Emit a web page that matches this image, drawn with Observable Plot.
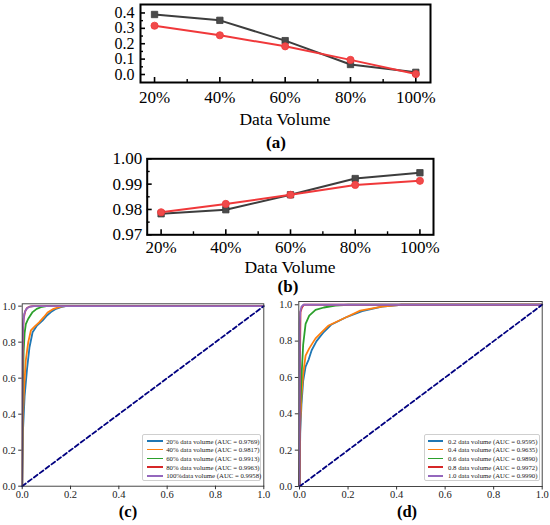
<!DOCTYPE html>
<html>
<head>
<meta charset="utf-8">
<script src="https://cdn.jsdelivr.net/npm/d3@7"></script>
<script src="https://cdn.jsdelivr.net/npm/@observablehq/plot@0.6"></script>
<style>
  html, body { margin: 0; padding: 0; background: #fff; overflow: hidden; }
  #fig { position: relative; width: 550px; height: 525px; font-family: "Liberation Serif", "Times New Roman", serif; color: #000; }
  .panel { position: absolute; }
  .lbl { position: absolute; transform: translate(-50%, -50%); white-space: nowrap; line-height: 1; }
  .legend { position: absolute; background: #fff; border: 0.7px solid #cfcfcf; border-radius: 2px; box-sizing: border-box; font-family: "Liberation Serif", serif; font-size: 6.75px; color: #222; }
  .row { position: absolute; left: 0; height: 8px; display: flex; align-items: center; white-space: nowrap; }
  .swatch { display: inline-block; height: 1.5px; }
</style>
</head>
<body>
<div id="fig"></div>
<script>
// ---------- data ----------
const volumes = [20, 40, 60, 80, 100];
const volumeLabels = ["20%", "40%", "60%", "80%", "100%"];
const minorVolumes = [30, 50, 70, 90];

// panel (a)
const aGray = [0.390, 0.352, 0.220, 0.065, 0.014];
const aRed  = [0.317, 0.255, 0.183, 0.095, 0.003];
const aTicks = [0.0, 0.1, 0.2, 0.3, 0.4];
const aMinor = [0.05, 0.15, 0.25, 0.35];

// panel (b)
const bGray = [0.9783, 0.9799, 0.9858, 0.9922, 0.9945];
const bRed  = [0.9789, 0.9822, 0.9858, 0.9897, 0.9913];
const bTicks = [0.97, 0.98, 0.99, 1.00];
const bMinor = [0.975, 0.985, 0.995];

// ROC ticks
const rocTicks = [0, 0.2, 0.4, 0.6, 0.8, 1.0];
const diagonal = [[0, 0], [1, 1]];
const rocColors = ["#1f77b4", "#ff7f0e", "#2ca02c", "#d62728", "#9467bd"];

// panel (c) ROC curves [fpr, tpr]
const c20 = [[0,0],[0.003,0.30],[0.010,0.50],[0.020,0.65],[0.030,0.77],[0.043,0.855],[0.060,0.89],[0.084,0.92],[0.100,0.945],[0.119,0.967],[0.140,0.985],[0.160,0.994],[0.180,1.0],[1,1]];
const c40 = [[0,0],[0.002,0.35],[0.008,0.55],[0.015,0.70],[0.025,0.80],[0.036,0.865],[0.050,0.885],[0.070,0.91],[0.090,0.94],[0.105,0.965],[0.130,0.985],[0.160,0.997],[0.180,1.0],[1,1]];
const c60 = [[0,0],[0.002,0.50],[0.006,0.75],[0.010,0.85],[0.015,0.90],[0.025,0.93],[0.043,0.967],[0.060,0.985],[0.077,0.994],[0.100,1.0],[1,1]];
const c80 = [[0,0],[0.001,0.60],[0.003,0.85],[0.006,0.93],[0.012,0.97],[0.020,0.99],[0.030,0.997],[0.045,1.0],[1,1]];
const c100 = [[0,0],[0.001,0.70],[0.003,0.88],[0.008,0.955],[0.015,0.98],[0.025,0.993],[0.036,0.998],[0.050,1.0],[1,1]];
const cLabels = ["20% data volume (AUC = 0.9769)", "40% data volume (AUC = 0.9817)", "60% data volume (AUC = 0.9913)", "80% data volume (AUC = 0.9963)", "100%data volume (AUC = 0.9958)"];

// panel (d) ROC curves [fpr, tpr]
const d02 = [[0,0],[0.003,0.30],[0.008,0.45],[0.015,0.58],[0.025,0.66],[0.038,0.70],[0.050,0.75],[0.070,0.80],[0.100,0.85],[0.130,0.89],[0.190,0.93],[0.258,0.965],[0.340,0.99],[0.420,1.0],[1,1]];
const d04 = [[0,0],[0.003,0.35],[0.008,0.50],[0.015,0.62],[0.025,0.72],[0.040,0.76],[0.066,0.815],[0.100,0.86],[0.120,0.886],[0.190,0.93],[0.250,0.968],[0.340,0.99],[0.420,1.0],[1,1]];
const d06 = [[0,0],[0.002,0.40],[0.008,0.60],[0.015,0.78],[0.025,0.895],[0.040,0.94],[0.066,0.972],[0.100,0.985],[0.148,0.996],[0.200,1.0],[1,1]];
const d08 = [[0,0],[0.002,0.70],[0.004,0.96],[0.010,0.985],[0.018,1.0],[1,1]];
const d10 = [[0,0],[0.001,0.90],[0.003,0.96],[0.008,0.99],[0.015,1.0],[1,1]];
const dLabels = ["0.2 data volume (AUC = 0.9595)", "0.4 data volume (AUC = 0.9635)", "0.6 data volume (AUC = 0.9890)", "0.8 data volume (AUC = 0.9972)", "1.0 data volume (AUC = 0.9990)"];

// ---------- helpers ----------
const fig = document.getElementById("fig");
const GRAY = "#3d3d3d", RED = "#f0383a";
const volFmt = d => volumeLabels[volumes.indexOf(d)];

function place(el, left, top) {
  const wrap = document.createElement("div");
  wrap.className = "panel";
  wrap.style.left = left + "px";
  wrap.style.top = top + "px";
  wrap.appendChild(el);
  fig.appendChild(wrap);
}
function label(text, x, y, size, bold) {
  const d = document.createElement("div");
  d.className = "lbl";
  d.textContent = text;
  d.style.left = x + "px";
  d.style.top = y + "px";
  d.style.fontSize = size + "px";
  if (bold) d.style.fontWeight = "bold";
  fig.appendChild(d);
}

function originPanel({gray, red, yDomain, xDomain, yTicks, yMinor, yFmt, mL, mR, mT, mB, h, xPad, yPad, yFont}) {
  const fw = 550 - mL - mR, fh = h - mT - mB;
  const grayRows = volumes.map((v, i) => ({x: v, y: gray[i]}));
  const redRows = volumes.map((v, i) => ({x: v, y: red[i]}));
  return Plot.plot({
    width: 550, height: h,
    marginLeft: mL, marginRight: mR, marginTop: mT, marginBottom: mB,
    style: {fontFamily: "Liberation Serif, Times New Roman, serif", background: "transparent", color: "#000"},
    x: {domain: xDomain},
    y: {domain: yDomain},
    marks: [
      Plot.axisX({ticks: volumes, tickFormat: volFmt, tickSize: 0, tickPadding: xPad, fontSize: 17, label: null}),
      Plot.axisY({ticks: yTicks, tickFormat: yFmt, tickSize: 0, tickPadding: yPad, fontSize: yFont, label: null}),
      Plot.tickX(volumes, {x: d => d, insetTop: fh - 5, stroke: "#000", strokeWidth: 1.6}),
      Plot.tickX(minorVolumes, {x: d => d, insetTop: fh - 3, stroke: "#000", strokeWidth: 1.4}),
      Plot.tickY(yTicks, {y: d => d, insetRight: fw - 5, stroke: "#000", strokeWidth: 1.6}),
      Plot.tickY(yMinor, {y: d => d, insetRight: fw - 3, stroke: "#000", strokeWidth: 1.4}),
      Plot.line(grayRows, {x: "x", y: "y", stroke: GRAY, strokeWidth: 2}),
      Plot.dot(grayRows, {x: "x", y: "y", symbol: "square", r: 3.6, fill: "#4a4a4a", stroke: GRAY, strokeWidth: 0.8}),
      Plot.line(redRows, {x: "x", y: "y", stroke: RED, strokeWidth: 2}),
      Plot.dot(redRows, {x: "x", y: "y", r: 3.6, fill: "#f04a4a", stroke: RED, strokeWidth: 0.8}),
      Plot.frame({stroke: "#000", strokeWidth: 2})
    ]
  });
}

function rocPanel({curves, xDomain, yDomain, mL, mR, mT, mB}) {
  const marks = [
    Plot.axisX({ticks: rocTicks, tickFormat: d3.format(".1f"), tickSize: 3.5, tickPadding: 0.5, fontSize: 10.5, label: null, stroke: "#333"}),
    Plot.axisY({ticks: rocTicks, tickFormat: d3.format(".1f"), tickSize: 3.5, tickPadding: 3, fontSize: 10.5, label: null, stroke: "#333"})
  ];
  curves.forEach((c, i) => marks.push(Plot.line(c, {stroke: rocColors[i], strokeWidth: 1.8, clip: true})));
  marks.push(Plot.line(diagonal, {stroke: "#000080", strokeWidth: 1.8, strokeDasharray: "4.5,2.8"}));
  marks.push(Plot.frame({stroke: "#333", strokeWidth: 0.9}));
  return Plot.plot({
    width: 275, height: 230,
    marginLeft: mL, marginRight: mR, marginTop: mT, marginBottom: mB,
    style: {fontFamily: "Liberation Serif, Times New Roman, serif", background: "transparent", color: "#222"},
    x: {domain: xDomain},
    y: {domain: yDomain},
    marks
  });
}

function legend(labels, left, top, width, height, lineX0, lineX1, textX, rowTop, rowStep) {
  const box = document.createElement("div");
  box.className = "legend";
  box.style.left = left + "px";
  box.style.top = top + "px";
  box.style.width = width + "px";
  box.style.height = height + "px";
  labels.forEach((t, i) => {
    const row = document.createElement("div");
    row.className = "row";
    row.style.top = (rowTop + i * rowStep - 4) + "px";
    const sw = document.createElement("span");
    sw.className = "swatch";
    sw.style.marginLeft = lineX0 + "px";
    sw.style.width = (lineX1 - lineX0) + "px";
    sw.style.background = rocColors[i];
    const tx = document.createElement("span");
    tx.textContent = t;
    tx.style.marginLeft = (textX - lineX1) + "px";
    row.appendChild(sw);
    row.appendChild(tx);
    box.appendChild(row);
  });
  fig.appendChild(box);
}

// ---------- panel (a) ----------
place(originPanel({gray: aGray, red: aRed, yDomain: [-0.052, 0.455], xDomain: [15.7, 104.5],
  yTicks: aTicks, yMinor: aMinor, yFmt: d3.format(".1f"),
  mL: 140, mR: 120, mT: 4, mB: 48, h: 130, xPad: 8, yPad: 6, yFont: 16}), 0, 0);
label("Data Volume", 285, 120, 17.5, false);
label("(a)", 276, 142, 17, true);

// ---------- panel (b) ----------
place(originPanel({gray: bGray, red: bRed, yDomain: [0.97, 1.0], xDomain: [15.7, 104.2],
  yTicks: bTicks, yMinor: bMinor, yFmt: d3.format(".2f"),
  mL: 146.7, mR: 117, mT: 8.3, mB: 45.7, h: 130, xPad: 6.5, yPad: 5, yFont: 17}), 0, 150);
label("Data Volume", 290, 268, 17.5, false);
label("(b)", 288, 286, 17, true);

// ---------- panel (c) ----------
place(rocPanel({curves: [c20, c40, c60, c80, c100], xDomain: [0, 1], yDomain: [0, 1.013],
  mL: 21.7, mR: 11.7, mT: 8.3, mB: 39.3}), 0, 295);
legend(cLabels, 141.7, 434, 119.5, 47, 4, 20, 23.5, 6, 8.7);
label("(c)", 128, 512, 16.5, true);

// ---------- panel (d) ----------
place(rocPanel({curves: [d02, d04, d06, d08, d10], xDomain: [-0.003, 1], yDomain: [0, 1.018],
  mL: 23.3, mR: 8.3, mT: 6, mB: 39}), 275, 295);
legend(dLabels, 424, 434, 116, 47, 3, 18, 23, 6, 8.7);
label("(d)", 407, 512, 16.5, true);
</script>
</body>
</html>
